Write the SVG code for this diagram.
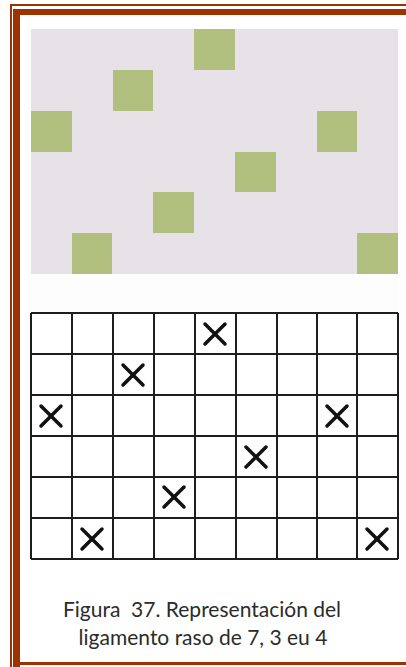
<svg xmlns="http://www.w3.org/2000/svg" width="406" height="667" viewBox="0 0 406 667">
<style>
.brd{fill:#9c3300}
.g{fill:#b1bf7f}
.cell{fill:none;stroke:#1e1e1e;stroke-width:2}
.x{stroke:#111;stroke-width:3.5;stroke-linecap:round}
.cap{font-family:Lato,"Open Sans","Liberation Sans",sans-serif;font-size:21px;fill:#2b2b2b;text-anchor:middle;white-space:pre}
</style>
<defs>
<g id="xm"><line class="x" x1="-10" y1="-10" x2="10" y2="10"/><line class="x" x1="-10" y1="10" x2="10" y2="-10"/></g>
</defs>
<rect width="406" height="667" fill="#ffffff"/>
<g id="border">
<rect class="brd" x="10" y="4" width="396" height="2"/>
<rect class="brd" x="10" y="4" width="2" height="663"/>
<rect class="brd" x="13" y="9" width="393" height="6"/>
<rect class="brd" x="13" y="9" width="7" height="658"/>
<rect class="brd" x="13" y="662" width="393" height="3"/>
</g>
<g id="fabric">
<rect x="31" y="29" width="367" height="245" fill="#e6e2e8"/>
<rect x="31" y="274" width="367" height="39" fill="#fdfdfd"/>
<rect class="g" x="194" y="29" width="41" height="41"/>
<rect class="g" x="113" y="70" width="40" height="41"/>
<rect class="g" x="31" y="111" width="41" height="41"/>
<rect class="g" x="317" y="111" width="40" height="41"/>
<rect class="g" x="235" y="152" width="41" height="40"/>
<rect class="g" x="153" y="192" width="41" height="41"/>
<rect class="g" x="72" y="233" width="40" height="41"/>
<rect class="g" x="357" y="233" width="41" height="41"/>
</g>
<g id="grid">
<rect x="31" y="313" width="367" height="246" fill="#ffffff"/>
<path class="cell" d="M31 313H398M31 354H398M31 395H398M31 436H398M31 477H398M31 518H398M31 559H398M31 313V559M72 313V559M113 313V559M154 313V559M195 313V559M236 313V559M277 313V559M317 313V559M357 313V559M398 313V559"/>
<use href="#xm" x="215" y="334"/>
<use href="#xm" x="133" y="375"/>
<use href="#xm" x="51" y="416"/>
<use href="#xm" x="337" y="416"/>
<use href="#xm" x="256" y="457"/>
<use href="#xm" x="174" y="497"/>
<use href="#xm" x="92" y="539"/>
<use href="#xm" x="377" y="539"/>
</g>
<g id="caption">
<text class="cap" x="202" y="617">Figura  37. Representación del</text>
<text class="cap" x="203" y="645">ligamento raso de 7, 3 eu 4</text>
</g>
</svg>
